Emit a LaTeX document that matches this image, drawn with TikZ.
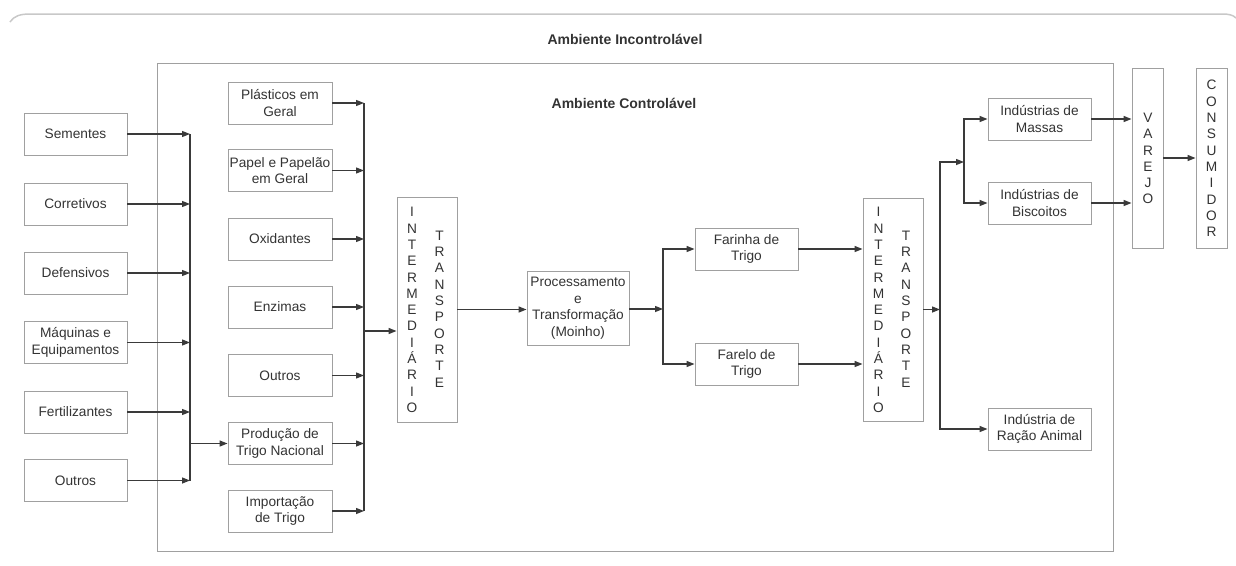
\documentclass[tikz,border=0pt]{standalone}
\usepackage{fontspec}
\setmainfont{Liberation Sans}
\usetikzlibrary{arrows.meta}
\definecolor{boxline}{HTML}{A0A0A0}
\definecolor{ink}{HTML}{333333}
\definecolor{arrowc}{HTML}{3A3A3A}
\definecolor{outerline}{HTML}{C8C8C8}
\begin{document}
\begin{tikzpicture}[x=1pt,y=-1pt,
  box/.style={draw=boxline, line width=0.9pt, text=ink, inner sep=0pt, minimum width=103pt, minimum height=42pt, align=center, font=\fontsize{13.7}{16.5}\selectfont},
  vbox/.style={draw=boxline, line width=0.9pt, inner sep=0pt},
  letters/.style={text=ink, inner sep=0pt, align=center, font=\fontsize{13.7}{16.3}\selectfont},
  arr/.style={draw=arrowc, line width=1.3pt, -{Triangle[length=8pt,width=6pt]}},
  bus/.style={draw=arrowc, line width=1.3pt},
  title/.style={text=ink, font=\fontsize{14}{16}\selectfont\bfseries}
]
\useasboundingbox (0,0) rectangle (1236,565);
\draw[outerline, line width=1.5pt] (10,22) .. controls (14,16) and (20,14) .. (30,14) -- (1222,14) .. controls (1229,14) and (1233,15) .. (1236,18);
\node[title] (tin) at (625,39) {Ambiente Incontrolável};
\node[vbox, minimum width=956pt, minimum height=488pt] (ctrl) at (635,307) {};
\node[title] (tc) at (624,103) {Ambiente Controlável};

% left column
\node[box] (sem) at (75.5,134) {Sementes};
\node[box] (cor) at (75.5,204) {Corretivos};
\node[box] (def) at (75.5,273) {Defensivos};
\node[box] (maq) at (75.5,342.5) {Máquinas e\\Equipamentos};
\node[box] (fer) at (75.5,412) {Fertilizantes};
\node[box] (outa) at (75.5,480.5) {Outros};

% middle column
\node[box, minimum width=104pt] (pla) at (280,103) {Plásticos em\\Geral};
\node[box, minimum width=104pt] (pap) at (280,170.5) {Papel e Papelão\\em Geral};
\node[box, minimum width=104pt] (oxi) at (280,239) {Oxidantes};
\node[box, minimum width=104pt] (enz) at (280,307) {Enzimas};
\node[box, minimum width=104pt] (outb) at (280,375.5) {Outros};
\node[box, minimum width=104pt] (pro) at (280,443.5) {Produção de\\Trigo Nacional};
\node[box, minimum width=104pt] (imp) at (280,511) {Importação\\de Trigo};

% intermediario 1
\node[vbox, minimum width=60pt, minimum height=225pt] (int1) at (427,309.5) {};
\node[letters] (int1a) at (412,310) {I\\N\\T\\E\\R\\M\\E\\D\\I\\Á\\R\\I\\O};
\node[letters] (int1b) at (439.5,309) {T\\R\\A\\N\\S\\P\\O\\R\\T\\E};

% processamento
\node[box, minimum width=102pt, minimum height=74pt] (proc) at (578,308) {Processamento\\e\\Transformação\\(Moinho)};

\node[box] (far) at (746.5,249) {Farinha de\\Trigo};
\node[box] (fare) at (746.5,364) {Farelo de\\Trigo};

% intermediario 2
\node[vbox, minimum width=60pt, minimum height=223pt] (int2) at (893,309.5) {};
\node[letters] (int2a) at (878.5,310) {I\\N\\T\\E\\R\\M\\E\\D\\I\\Á\\R\\I\\O};
\node[letters] (int2b) at (906,309) {T\\R\\A\\N\\S\\P\\O\\R\\T\\E};

\node[box] (mas) at (1039.5,119) {Indústrias de\\Massas};
\node[box] (bis) at (1039.5,203) {Indústrias de\\Biscoitos};
\node[box] (rac) at (1039.5,429) {Indústria de\\Ração Animal};

\node[vbox, minimum width=31pt, minimum height=180pt] (var) at (1147.5,158) {};
\node[letters] (vart) at (1148,158.5) {V\\A\\R\\E\\J\\O};
\node[vbox, minimum width=31pt, minimum height=180pt] (con) at (1211.5,158) {};
\node[letters] (cont) at (1211.5,158.5) {C\\O\\N\\S\\U\\M\\I\\D\\O\\R};

% bus coordinates
\coordinate (b1) at (190,300);
\coordinate (b2) at (364,331);
\coordinate (b3) at (663,309);
\coordinate (b4) at (940,309.5);
\coordinate (b5) at (964,162);

% bus 1
\draw[bus] (sem.east -| b1) -- (outa.east -| b1);
\foreach \n in {sem,cor,def,maq,fer,outa} \draw[arr] (\n.east) -- (\n.east -| b1);
\draw[arr] (pro.west -| b1) -- (pro.west);

% bus 2
\draw[bus] (pla.east -| b2) -- (imp.east -| b2);
\foreach \n in {pla,pap,oxi,enz,outb,pro,imp} \draw[arr] (\n.east) -- (\n.east -| b2);
\draw[arr] (b2) -- (b2 -| int1.west);

% to processing
\draw[arr] (int1.east) -- (int1.east -| proc.west);
\draw[arr] (proc.east |- b3) -- (b3);
\draw[arr] (b3) |- (far.west);
\draw[arr] (b3) |- (fare.west);
\draw[arr] (far.east) -- (far.east -| int2.west);
\draw[arr] (fare.east) -- (fare.east -| int2.west);

% distribution
\draw[arr] (int2.east) -- (b4);
\draw[arr] (b4) |- (b5);
\draw[arr] (b5) |- (mas.west);
\draw[arr] (b5) |- (bis.west);
\draw[arr] (b4) |- (rac.west);
\draw[arr] (mas.east) -- (mas.east -| var.west);
\draw[arr] (bis.east) -- (bis.east -| var.west);
\draw[arr] (var.east) -- (var.east -| con.west);
\end{tikzpicture}
\end{document}
